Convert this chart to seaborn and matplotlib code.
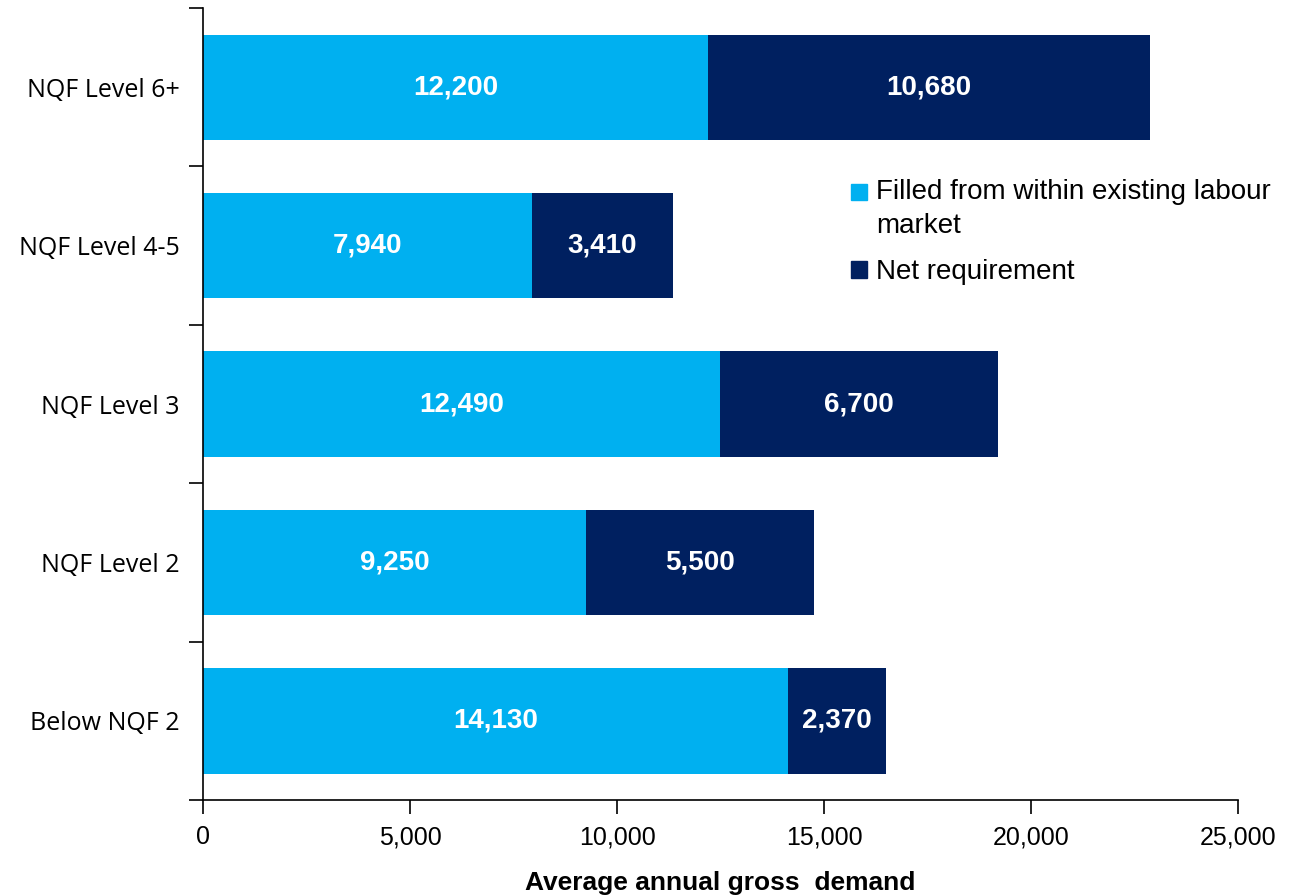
import matplotlib
matplotlib.use("Agg")
import matplotlib.pyplot as plt
import seaborn as sns
import pandas as pd
from matplotlib.patches import Patch
from matplotlib.ticker import FuncFormatter

# data
levels = ['NQF Level 6+', 'NQF Level 4-5', 'NQF Level 3', 'NQF Level 2', 'Below NQF 2']
filled = [12200, 7940, 12490, 9250, 14130]
net_req = [10680, 3410, 6700, 5500, 2370]
series_names = ['Filled from within existing labour\nmarket', 'Net requirement']

light = '#00B0F0'
dark = '#002060'

df = pd.DataFrame({'level': levels, 'filled': filled, 'net': net_req})
df['total'] = df['filled'] + df['net']

sns.set_style('white')
plt.rcParams['font.family'] = ['Liberation Sans', 'DejaVu Sans']

fig = plt.figure(figsize=(12.89, 8.96), dpi=100)
ax = fig.add_axes([0.1575, 0.107, 0.803, 0.884])

# stacked bars: total in dark, filled part on top in light
sns.barplot(data=df, x='total', y='level', orient='h', color=dark, width=0.665,
            saturation=1, ax=ax, order=levels, linewidth=0)
sns.barplot(data=df, x='filled', y='level', orient='h', color=light, width=0.665,
            saturation=1, ax=ax, order=levels, linewidth=0)

# value labels
for i, row in df.iterrows():
    ax.text(row['filled'] / 2, i, f"{row['filled']:,}", ha='center', va='center',
            color='white', fontsize=20, fontweight='bold')
    ax.text(row['filled'] + row['net'] / 2, i, f"{row['net']:,}", ha='center', va='center',
            color='white', fontsize=20, fontweight='bold')

ax.set_xlim(0, 25000)
ax.set_ylim(4.5, -0.5)
ax.set_xticks([0, 5000, 10000, 15000, 20000, 25000])
ax.xaxis.set_major_formatter(FuncFormatter(lambda v, p: f"{int(v):,}"))
ax.set_yticks(range(len(levels)))
ax.set_yticklabels(levels)
ax.set_yticks([i - 0.5 for i in range(len(levels) + 1)], minor=True)

for lab in ax.get_yticklabels():
    lab.set_fontfamily(['Open Sans', 'DejaVu Sans'])
    lab.set_fontsize(18)
    lab.set_color('black')
for lab in ax.get_xticklabels():
    lab.set_fontfamily(['Liberation Sans Narrow', 'Liberation Sans'])
    lab.set_fontsize(18)
    lab.set_color('black')

ax.tick_params(axis='y', which='major', left=False, length=0, pad=17)
ax.tick_params(axis='y', which='minor', left=True, length=10, width=1.2, color='black', direction='out')
ax.tick_params(axis='x', which='major', bottom=True, length=10, width=1.2, color='black',
               direction='out', pad=8)

ax.set_xlabel('Average annual gross  demand', fontsize=19, fontweight='bold', color='black',
              fontfamily=['Liberation Sans Narrow', 'Liberation Sans'], labelpad=16)
ax.set_ylabel('')

for side in ['top', 'right']:
    ax.spines[side].set_visible(False)
for side in ['left', 'bottom']:
    ax.spines[side].set_color('black')
    ax.spines[side].set_linewidth(1.2)

handles = [Patch(color=light), Patch(color=dark)]
leg = fig.legend(handles, series_names, loc='upper left', bbox_to_anchor=(0.641, 0.828),
                 frameon=False, fontsize=20, handlelength=0.55, handleheight=0.55,
                 handletextpad=0.35, labelspacing=0.72, labelcolor='black')
for t in leg.get_texts():
    t.set_linespacing(1.4)
# put the first swatch next to the first line of its two-line label
h0 = leg.legend_handles[0]
h0.set_y(h0.get_y() + 12.5)

plt.savefig('out.png', dpi=100)
